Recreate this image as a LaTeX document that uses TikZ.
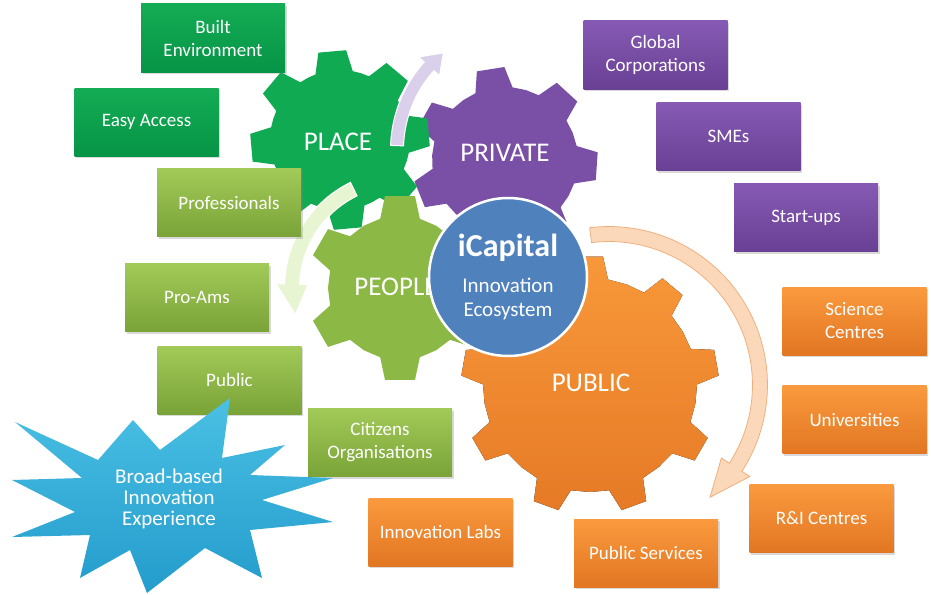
\documentclass[tikz,border=0pt]{standalone}
\usepackage{fontspec}
\setmainfont{Carlito}
\usetikzlibrary{shadows}

\definecolor{darkgrn}{RGB}{20,172,84}
\definecolor{darkgrnb}{RGB}{6,148,70}
\definecolor{litgrn}{RGB}{162,202,88}
\definecolor{litgrnb}{RGB}{122,163,56}
\definecolor{purp}{RGB}{134,90,180}
\definecolor{purpb}{RGB}{104,64,148}
\definecolor{oran}{RGB}{250,154,62}
\definecolor{oranb}{RGB}{226,118,34}
\definecolor{placegear}{RGB}{16,170,82}
\definecolor{privgear}{RGB}{122,80,166}
\definecolor{peoplegear}{RGB}{140,184,70}
\definecolor{pubgear}{RGB}{248,152,58}
\definecolor{pubgearb}{RGB}{230,122,38}
\definecolor{icblue}{RGB}{79,129,189}
\definecolor{burst}{RGB}{74,192,228}
\definecolor{burstb}{RGB}{36,156,204}
\definecolor{purparrow}{RGB}{218,208,236}
\definecolor{grnarrow}{RGB}{232,245,210}
\definecolor{orarrow}{RGB}{252,216,186}
\definecolor{orarrowb}{RGB}{240,176,126}

\begin{document}
\begin{tikzpicture}[x=1pt,y=-1pt]
      \useasboundingbox (0,0) rectangle (931,594);
      \tikzset{B/.style = {minimum width=144pt, minimum height=68pt, align=center, text=white, font=\fontsize{19}{23}\selectfont, drop shadow={opacity=0.3,shadow xshift=1.5pt,shadow yshift=-2pt}}}
      \tikzset{Bg/.style = {B, top color=darkgrn, bottom color=darkgrnb}}
      \tikzset{Bl/.style = {B, top color=litgrn, bottom color=litgrnb}}
      \tikzset{Bp/.style = {B, top color=purp, bottom color=purpb}}
      \tikzset{Bo/.style = {B, top color=oran, bottom color=oranb}}
      \tikzset{G/.style = {text=white, font=\fontsize{27}{30}\selectfont}}
      \tikzset{pics/cog/.style args={#1/#2/#3/#4/#5/#6}{code={
        \fill[pic actions] ({#4-#5}:#2) \foreach \k in {1,...,#1}{
          -- ({#4+(\k-1)*360/#1-#5}:#2) -- ({#4+(\k-1)*360/#1-#6}:#3)
          -- ({#4+(\k-1)*360/#1+#6}:#3) -- ({#4+(\k-1)*360/#1+#5}:#2)
          -- ({#4+(\k-0.5)*360/#1}:#2)} -- cycle;}}}
      \tikzset{pics/curvarrow/.style args={#1/#2/#3/#4/#5/#6}{code={
        \filldraw[pic actions] plot[domain=#4:#5,samples=40] ({(#1+#2)*cos(\x)},{(#1+#2)*sin(\x)})
          -- ({(#1+#3)*cos(#5)},{(#1+#3)*sin(#5)}) -- ({#1*cos(#6)},{#1*sin(#6)})
          -- ({(#1-#3)*cos(#5)},{(#1-#3)*sin(#5)})
          -- plot[domain=#5:#4,samples=40] ({(#1-#2)*cos(\x)},{(#1-#2)*sin(\x)}) -- cycle;}}}
      % gears
      \pic[fill=privgear] at (505,160) {cog=7/73/93/261/14.9/8.6};
      \pic[fill=placegear] at (340,140) {cog=8/70/90/265/15.5/8.9};
      \pic[fill=peoplegear] at (400,288) {cog=6/72/93/30/16/9.3};
      \pic[top color=pubgear, bottom color=pubgearb] at (590,385) {cog=9/107/129/30/9.7/5.8};
      \node[G](place) at (338,142) {PLACE};
      \node[G](private) at (505,153) {PRIVATE};
      \node[G](people) at (396,287) {PEOPLE};
      \node[G](public) at (591,383) {PUBLIC};
      % curved arrows
      \pic[fill=purparrow, draw=white, line width=1pt] at (522,150) {curvarrow=125/6.5/14/182/222/231};
      \pic[fill=grnarrow, draw=white, line width=1pt] at (402,288) {curvarrow=110/7.5/16/244/182/166};
      \pic[fill=orarrow, draw=orarrowb, line width=0.8pt] at (609,385) {curvarrow=151/7.5/17/263/393/408};
      % hub
      \node[circle, minimum size=158pt, inner sep=0pt, fill=icblue, draw=white, line width=2.5pt, text=white, align=center, font=\fontsize{21}{24}\selectfont](icap) at (508,277) {{\fontsize{32}{36}\selectfont\bfseries iCapital}\\[12pt]Innovation\\Ecosystem};
      % boxes
      \node[Bg](built) at (213,38) {Built\\Environment};
      \node[Bg](easy) at (146.5,122) {Easy Access};
      \node[Bl](prof) at (229,202.5) {Professionals};
      \node[Bl](proams) at (197,297.5) {Pro-Ams};
      \node[Bl](pub) at (229.5,380) {Public};
      \node[Bl](citiz) at (380,442.5) {Citizens\\Organisations};
      \node[Bo](labs) at (440.5,532) {Innovation Labs};
      \node[Bo](pubserv) at (646,553) {Public Services};
      \node[Bo](ricent) at (821.5,518.5) {R\&I Centres};
      \node[Bo](univ) at (854.5,419.5) {Universities};
      \node[Bo](scicent) at (854.5,321) {Science\\Centres};
      \node[Bp](global) at (655.5,55) {Global\\Corporations};
      \node[Bp](smes) at (728.5,136.5) {SMEs};
      \node[Bp](startups) at (806,217.5) {Start-ups};
      % starburst
      \shade[top color=burst, bottom color=burstb] (15,422) -- (98,460) -- (133,420) -- (160,450)
        -- (230,398) -- (222,458) -- (285,445) -- (250,475) -- (333,478) -- (262,500)
        -- (333,522) -- (250,530) -- (262,578) -- (205,548) -- (147,593) -- (130,550)
        -- (80,578) -- (90,535) -- (12,537) -- (75,512) -- (12,480) -- (82,478) -- cycle;
      \node[text=white, align=center, font=\fontsize{21}{21}\selectfont](bbie) at (169,499) {Broad-based\\Innovation\\Experience};
    \end{tikzpicture}
\end{document}
